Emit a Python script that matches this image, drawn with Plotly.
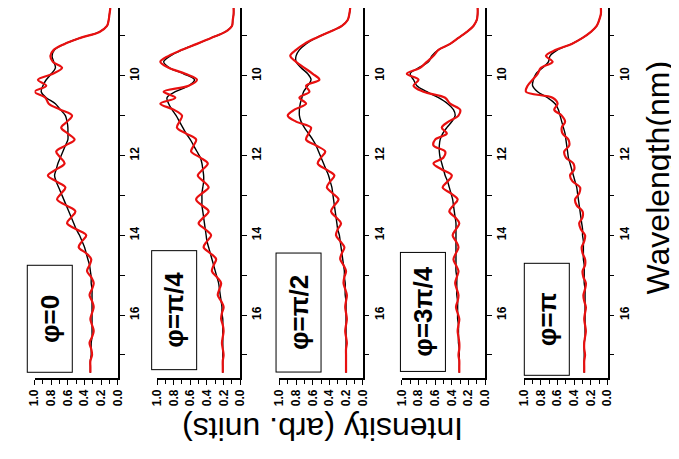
import plotly.graph_objects as go

WAVELENGTH = [8.30, 8.45, 8.60, 8.75, 8.90, 9.05, 9.20, 9.35, 9.50, 9.65,
              9.80, 9.95, 10.10, 10.25, 10.40, 10.55, 10.70, 10.85, 11.00, 11.15,
              11.30, 11.45, 11.60, 11.75, 11.90, 12.05, 12.20, 12.35, 12.50, 12.65,
              12.80, 12.95, 13.10, 13.25, 13.40, 13.55, 13.70, 13.85, 14.00, 14.15,
              14.30, 14.45, 14.60, 14.75, 14.90, 15.05, 15.20, 15.35, 15.50, 15.65,
              15.80, 15.95, 16.10, 16.25, 16.40, 16.55, 16.70, 16.85, 17.00, 17.15,
              17.30, 17.45]

PHASE_LABELS = ["φ=0", "φ=π/4", "φ=π/2", "φ=3π/4", "φ=π"]

BLACK_0 = [.09, .10, .11, .13, .22, .45, .64, .76, .79, .77,
           .75, .80, .86, .90, .92, .86, .75, .69, .63, .61,
           .60, .60, .60, .63, .66, .69, .72, .74, .76, .74,
           .71, .68, .65, .62, .59, .56, .53, .50, .46, .43,
           .40, .38, .36, .34, .33, .32, .32, .31, .31, .31,
           .31, .31, .31, .31, .31, .31, .32, .32, .32, .33,
           .33, .33]
RED_0 = [.09, .10, .11, .13, .22, .45, .64, .77, .81, .78,
         .67, .78, .96, .86, 1.0, .87, .83, .69, .55, .61,
         .68, .60, .52, .63, .74, .69, .64, .74, .84, .74,
         .63, .68, .73, .62, .51, .56, .61, .50, .38, .43,
         .47, .38, .32, .34, .37, .32, .29, .31, .34, .31,
         .29, .31, .33, .31, .29, .31, .34, .32, .31, .33,
         .33, .33]

BLACK_1 = [.08, .08, .09, .10, .18, .35, .52, .70, .84, .92,
           .85, .68, .55, .62, .78, .88, .86, .82, .77, .73,
           .69, .65, .60, .56, .52, .48, .46, .45, .44, .44,
           .45, .46, .46, .46, .45, .44, .43, .42, .41, .40,
           .38, .36, .34, .32, .30, .28, .26, .25, .24, .23,
           .22, .22, .21, .21, .21, .21, .21, .21, .21, .21,
           .21, .21]
RED_1 = [.08, .08, .09, .10, .18, .35, .52, .70, .86, .96,
         .86, .66, .52, .62, .92, .78, .96, .80, .70, .73,
         .76, .65, .53, .56, .59, .48, .39, .45, .51, .44,
         .38, .46, .53, .46, .38, .44, .50, .42, .35, .40,
         .44, .36, .29, .32, .34, .28, .23, .25, .27, .23,
         .20, .22, .23, .21, .20, .21, .22, .21, .20, .21,
         .21, .21]

BLACK_2 = [.15, .16, .18, .25, .40, .56, .68, .76, .80, .80,
           .74, .66, .62, .66, .71, .73, .75, .76, .76, .74,
           .70, .65, .60, .56, .53, .50, .47, .44, .41, .39,
           .37, .36, .35, .34, .33, .32, .31, .30, .28, .27,
           .26, .25, .24, .23, .22, .22, .21, .21, .21, .20,
           .20, .20, .20, .20, .20, .20, .20, .20, .20, .20,
           .20, .20]
RED_2 = [.15, .16, .18, .25, .40, .56, .70, .80, .87, .80,
         .70, .60, .52, .68, .64, .76, .68, .82, .90, .80,
         .62, .65, .68, .56, .45, .50, .54, .44, .34, .39,
         .43, .36, .29, .34, .38, .32, .26, .30, .32, .27,
         .22, .25, .27, .23, .20, .22, .23, .21, .19, .20,
         .21, .20, .19, .20, .21, .20, .19, .20, .20, .20,
         .20, .20]

BLACK_3 = [.09, .09, .10, .14, .22, .32, .42, .56, .64, .68,
           .80, .90, .86, .82, .70, .56, .45, .38, .36, .40,
           .46, .51, .54, .55, .55, .54, .52, .50, .48, .45,
           .43, .41, .39, .38, .37, .36, .35, .35, .35, .35,
           .35, .35, .35, .35, .35, .34, .34, .34, .34, .33,
           .33, .33, .33, .32, .32, .32, .32, .31, .31, .31,
           .31, .31]
RED_3 = [.09, .09, .10, .14, .22, .32, .42, .56, .62, .70,
         .78, .94, .80, .86, .74, .48, .42, .30, .32, .44,
         .52, .46, .60, .62, .48, .50, .62, .52, .40, .45,
         .51, .41, .33, .38, .43, .36, .31, .35, .39, .35,
         .32, .35, .38, .35, .32, .34, .36, .34, .32, .33,
         .35, .33, .31, .32, .33, .32, .31, .31, .32, .31,
         .31, .31]

BLACK_4 = [.08, .08, .10, .13, .20, .30, .43, .60, .69, .71,
           .78, .86, .89, .90, .84, .72, .63, .59, .57, .55,
           .53, .51, .50, .49, .48, .47, .45, .43, .41, .39,
           .37, .36, .35, .34, .33, .32, .31, .30, .30, .29,
           .29, .29, .29, .28, .28, .28, .28, .27, .27, .27,
           .27, .27, .27, .27, .27, .27, .28, .28, .28, .28,
           .28, .28]
RED_4 = [.08, .08, .10, .13, .20, .30, .43, .62, .74, .66,
         .80, .84, .90, .96, .98, .66, .60, .64, .55, .51,
         .55, .54, .47, .46, .52, .50, .41, .40, .45, .42,
         .33, .34, .39, .37, .30, .30, .34, .32, .27, .28,
         .31, .30, .27, .27, .30, .29, .26, .27, .29, .28,
         .26, .27, .28, .27, .26, .27, .28, .28, .27, .28,
         .28, .28]

BLACK = [BLACK_0, BLACK_1, BLACK_2, BLACK_3, BLACK_4]
RED = [RED_0, RED_1, RED_2, RED_3, RED_4]
for s in BLACK + RED:
    assert len(s) == len(WAVELENGTH), len(s)

W, H = 679, 459
FONT = "Liberation Sans, Arial, sans-serif"

# label box geometry (pixels): padding spaces and box lengths
LABEL_PAD = [3, 2, 2, 1, 3]
BOX_LEN = [105, 121, 117, 119, 104]

fig = go.Figure()
layout = dict(width=W, height=H, margin=dict(l=0, r=0, t=0, b=0),
              paper_bgcolor="white", plot_bgcolor="white", showlegend=False)

annotations = []
for k in range(5):
    n = "" if k == 0 else str(k + 1)
    fig.add_trace(go.Scatter(x=BLACK[k], y=WAVELENGTH, mode="lines",
                             line=dict(color="black", width=1.4, shape="spline"),
                             xaxis="x" + n, yaxis="y" + n, hoverinfo="skip"))
    fig.add_trace(go.Scatter(x=RED[k], y=WAVELENGTH, mode="lines",
                             line=dict(color="#e81010", width=2.2, shape="spline"),
                             xaxis="x" + n, yaxis="y" + n, hoverinfo="skip"))
    x0 = (20 + 125 * k) / W
    x1 = (105 + 125 * k) / W
    y0 = 1 - 370 / H
    tick_common = dict(showline=True, linecolor="black", linewidth=1.5,
                       ticks="outside", ticklen=5, tickwidth=1.3, tickcolor="black",
                       showgrid=False, zeroline=False, tickangle=-90,
                       tickfont=dict(family=FONT, size=12, color="black", weight="bold"))
    layout["xaxis" + n] = dict(domain=[x0, x1], range=[1.0, 0.0], anchor="y" + n,
                               side="bottom", tick0=0, dtick=0.2, tickformat=".1f",
                               minor=dict(ticks="outside", dtick=0.1, ticklen=4,
                                          tickwidth=1.3, tickcolor="black", showgrid=False),
                               **tick_common)
    layout["yaxis" + n] = dict(domain=[y0, 1.0], range=[17.58, 8.3], anchor="x" + n,
                               side="right", tick0=10, dtick=2,
                               minor=dict(ticks="outside", dtick=1, ticklen=5,
                                          tickwidth=1.3, tickcolor="black", showgrid=False),
                               **tick_common)
    pad = "&nbsp;" * LABEL_PAD[k]
    annotations.append(dict(
        text=pad + PHASE_LABELS[k] + pad, xref="paper", yref="paper",
        x=(35 + 127 * k) / W, y=1 - (363 - BOX_LEN[k] / 2) / H,
        xanchor="center", yanchor="middle",
        textangle=-90, showarrow=False,
        font=dict(family=FONT, size=26, color="black", weight="bold"),
        bordercolor="black", borderwidth=1, borderpad=7, bgcolor="white"))

annotations.append(dict(text="Wavelength(nm)", xref="paper", yref="paper",
                        x=657 / W, y=1 - 169 / H, xanchor="center", yanchor="middle",
                        textangle=-90, showarrow=False,
                        font=dict(family=FONT, size=32, color="black")))
annotations.append(dict(text="Intensity (arb. units)", xref="paper", yref="paper",
                        x=314 / W, y=1 - 421 / H, xanchor="center", yanchor="middle",
                        textangle=180, showarrow=False,
                        font=dict(family=FONT, size=32, color="black")))
layout["annotations"] = annotations
fig.update_layout(**layout)
fig.write_html("out.html")
